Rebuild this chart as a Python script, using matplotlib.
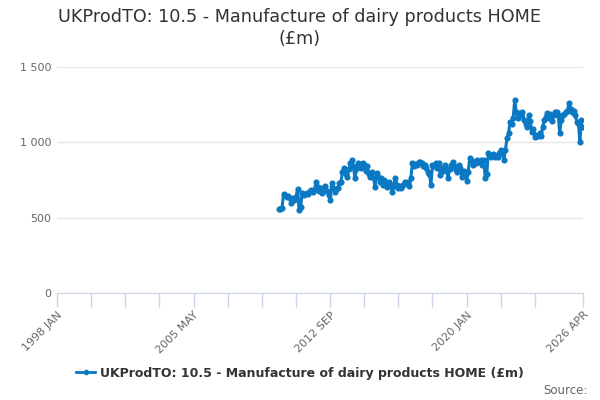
import numpy as np
import matplotlib
matplotlib.use('Agg')
import matplotlib.pyplot as plt
from matplotlib.lines import Line2D

# monthly values (£m), 2009 DEC .. 2026 APR
start_label = '2009 DEC'
values = [
    556,
    # 2010
    558, 562, 660, 650, 640, 645, 632, 598, 628, 615, 640, 688,
    # 2011
    552, 570, 662, 650, 658, 665, 660, 675, 684, 670, 690, 739,
    # 2012
    705, 680, 700, 662, 690, 710, 675, 650, 617, 728, 700, 673,
    # 2013
    690, 700, 728, 740, 800, 828, 790, 772, 820, 860, 883, 840,
    # 2014
    762, 820, 861, 845, 830, 865, 850, 810, 840, 790, 772, 800,
    # 2015
    760, 706, 795, 770, 740, 760, 720, 750, 730, 706, 740, 720,
    # 2016
    673, 710, 762, 720, 695, 710, 700, 715, 740, 728, 735, 710,
    # 2017
    760, 861, 840, 855, 850, 870, 872, 865, 840, 850, 830, 800,
    # 2018
    790, 720, 850, 840, 860, 830, 863, 784, 830, 810, 850, 820,
    # 2019
    764, 820, 850, 870, 840, 817, 800, 850, 830, 772, 810, 790,
    # 2020
    746, 800, 896, 880, 850, 872, 860, 880, 870, 880, 850, 880,
    # 2021
    764, 790, 932, 910, 900, 920, 905, 910, 900, 930, 950, 930,
    # 2022
    883, 950, 1027, 1060, 1138, 1120, 1160, 1282, 1200, 1160, 1193, 1180,
    # 2023
    1200, 1150, 1120, 1104, 1180, 1140, 1071, 1090, 1038, 1050, 1040, 1060,
    # 2024
    1040, 1100, 1149, 1170, 1195, 1160, 1190, 1140, 1180, 1200, 1204, 1180,
    # 2025
    1060, 1150, 1182, 1190, 1200, 1210, 1264, 1220, 1200, 1210, 1180, 1138,
    # 2026
    1130, 1005, 1149, 1104,
]

months = ['JAN', 'FEB', 'MAR', 'APR', 'MAY', 'JUN',
          'JUL', 'AUG', 'SEP', 'OCT', 'NOV', 'DEC']
axis_start_year = 1998
major_ticks = [0, 88, 176, 264, 339]      # months since 1998 JAN
minor_ticks = list(range(0, 309, 22)) + [339]
y_ticks = [0, 500, 1000, 1500]

series_name = 'UKProdTO: 10.5 - Manufacture of dairy products HOME (£m)'
title = 'UKProdTO: 10.5 - Manufacture of dairy products HOME\n(£m)'

blue = '#0a78c2'
grey_txt = '#666666'
dark_txt = '#333333'
axis_col = '#ccd6eb'
grid_col = '#e6e6e6'


def month_label(m):
    return '%d %s' % (axis_start_year + m // 12, months[m % 12])


sy, sm = start_label.split()
first = (int(sy) - axis_start_year) * 12 + months.index(sm)
x = first + np.arange(len(values))

plt.rcParams['font.family'] = 'DejaVu Sans'
fig = plt.figure(figsize=(6, 4), dpi=100)
ax = fig.add_axes([57 / 600, 1 - 293 / 400, 526 / 600, (293 - 67) / 400])

ax.plot(x, values, '-o', color=blue, lw=2.2, ms=3.4, mec=blue, zorder=3)

ax.set_xlim(0, 339)
ax.set_ylim(0, 1500)

ax.set_yticks(y_ticks)
ax.set_yticklabels([('%d' % v) if v < 1000 else '%d %03d' % (v // 1000, v % 1000)
                    for v in y_ticks], color=grey_txt, fontsize=8)
ax.tick_params(axis='y', length=0, pad=4)
ax.grid(axis='y', color=grid_col, lw=1)
ax.set_axisbelow(True)

ax.set_xticks(minor_ticks, minor=True)
ax.set_xticks(major_ticks)
ax.set_xticklabels([month_label(m) for m in major_ticks], rotation=45,
                   ha='right', rotation_mode='anchor', color=grey_txt, fontsize=8)
ax.tick_params(axis='x', which='both', length=10, color=axis_col, width=1, pad=2)

for s in ['top', 'right', 'left']:
    ax.spines[s].set_visible(False)
ax.spines['bottom'].set_color(axis_col)

fig.text(0.5, 0.98, title, ha='center', va='top', fontsize=12.7,
         color=dark_txt, linespacing=1.3)

handle = Line2D([], [], color=blue, lw=2, marker='o', ms=3)
fig.legend([handle], [series_name], loc='center', bbox_to_anchor=(0.5, 1 - 373 / 400),
           frameon=False, prop={'size': 9, 'weight': 'bold'}, handlelength=1.5,
           handletextpad=0.4, labelcolor=dark_txt)

fig.text(588 / 600, 1 - 390 / 400, 'Source:', ha='right', va='center',
         fontsize=8.5, color=grey_txt)

fig.savefig('out.png', dpi=100)
